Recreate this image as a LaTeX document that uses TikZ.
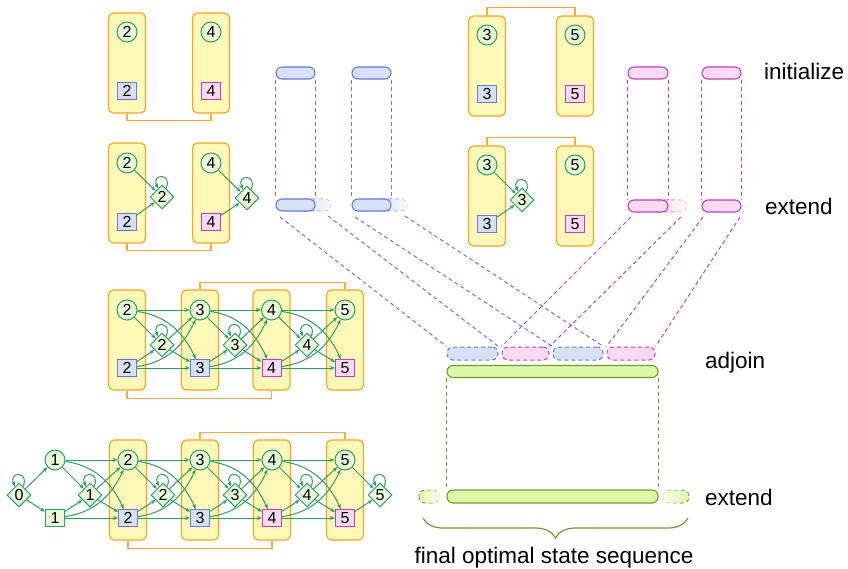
\documentclass[tikz,border=0pt]{standalone}
\usepackage{fontspec}
\setmainfont{Liberation Sans}
\usetikzlibrary{shapes.geometric,arrows.meta,decorations.pathreplacing,fadings,calc}
\definecolor{gline}{HTML}{2E9E62}
\definecolor{gfill}{HTML}{E8FAD8}
\definecolor{bline}{HTML}{6878E0}
\definecolor{bfill}{HTML}{D6E2F4}
\definecolor{pline}{HTML}{C23EC2}
\definecolor{pfill}{HTML}{FCDAF4}
\definecolor{oline}{HTML}{FFA21F}
\definecolor{ofill}{HTML}{FFF9B8}
\definecolor{obr}{HTML}{FFAA33}
\definecolor{lline}{HTML}{6A9E2C}
\definecolor{lfill}{HTML}{DEF8A8}
\tikzfading[name=fadeR, left color=transparent!0, right color=transparent!80]
\tikzfading[name=fadeL, left color=transparent!80, right color=transparent!0]
\newcommand\myloop[1]{\draw[arr] (#1) to[out=65,in=115,looseness=5.5] (#1);}
\newcommand\mytrans[5]{%
  \draw[arr] (#1) -- (#4);
  \draw[arr] (#2) -- (#5);
  \draw[arr] (#1) -- (#3);
  \draw[arr] (#2) -- (#3);
  \draw[arr] (#3) -- (#4);
  \draw[arr] (#3) -- (#5);
  \draw[arr] (#1) to[out=-8,in=115] (#5);
  \draw[arr] (#2) to[out=8,in=-115] (#4);
  \myloop{#3}
}
\begin{document}
\begin{tikzpicture}[x=1pt,y=-1pt,
  num/.style={font=\fontsize{16}{16}\selectfont},
  circ/.style={circle, draw=gline, fill=gfill, line width=1pt, minimum size=20pt, inner sep=0pt, num},
  sq/.style={rectangle, line width=1pt, minimum width=19pt, minimum height=17pt, inner sep=0pt, num},
  sqb/.style={sq, draw=bline, fill=bfill},
  sqp/.style={sq, draw=pline, fill=pfill},
  sqg/.style={sq, draw=gline, fill=gfill},
  dia/.style={diamond, draw=gline, fill=gfill, line width=1pt, minimum size=24pt, inner sep=0pt, num},
  ybox/.style={rectangle, rounded corners=5pt, draw=oline, fill=ofill, line width=1.2pt, minimum width=37pt, minimum height=100pt},
  brk/.style={draw=obr, line width=1.3pt},
  arr/.style={draw=gline, line width=1pt, -{Stealth[length=5pt,width=4pt]}},
  bar/.style={rectangle, rounded corners=6pt, minimum height=12pt, inner sep=0pt, line width=1.1pt},
  barb/.style={bar, draw=bline, fill=bfill},
  barp/.style={bar, draw=pline, fill=pfill},
  barg/.style={bar, draw=lline, fill=lfill},
  dsh/.style={dash pattern=on 4pt off 3pt, line width=1pt},
  lbl/.style={font=\fontsize{22.5}{24}\selectfont, inner sep=0pt},
]
\useasboundingbox (0,0) rectangle (848,569);

% ---------- group A ----------
\node[ybox] (a1) at (127,63) {};
\node[ybox] (a2) at (211,63) {};
\draw[brk] (a1.south) -- ++(0,7) -| (a2.south);
\node[circ] (ac1) at (127,32) {2};
\node[sqb] (as1) at (127,91) {2};
\node[circ] (ac2) at (211,32) {4};
\node[sqp] (as2) at (211,91) {4};

% ---------- group B ----------
\node[ybox] (b1) at (127,193) {};
\node[ybox] (b2) at (211,193) {};
\draw[brk] (b1.south) -- ++(0,7) -| (b2.south);
\node[circ] (bc1) at (127,163) {2};
\node[sqb] (bs1) at (127,222) {2};
\node[dia] (bd1) at (162,197) {2};
\node[circ] (bc2) at (211,163) {4};
\node[sqp] (bs2) at (211,222) {4};
\node[dia] (bd2) at (247,198) {4};
\draw[arr] (bc1) -- (bd1); \draw[arr] (bs1) -- (bd1); \myloop{bd1}
\draw[arr] (bc2) -- (bd2); \draw[arr] (bs2) -- (bd2); \myloop{bd2}

% ---------- group C ----------
\node[ybox] (c1) at (487,66) {};
\node[ybox] (c2) at (575,66) {};
\draw[brk] (c1.north) -- ++(0,-8) -| (c2.north);
\node[circ] (cc1) at (487,35) {3};
\node[sqb] (cs1) at (487,94) {3};
\node[circ] (cc2) at (575,35) {5};
\node[sqp] (cs2) at (575,94) {5};

% ---------- group D ----------
\node[ybox] (d1) at (487,196) {};
\node[ybox] (d2) at (575,196) {};
\draw[brk] (d1.north) -- ++(0,-8) -| (d2.north);
\node[circ] (dc1) at (487,165) {3};
\node[sqb] (ds1) at (487,224) {3};
\node[dia] (dd1) at (522,200) {3};
\node[circ] (dc2) at (575,165) {5};
\node[sqp] (ds2) at (575,224) {5};
\draw[arr] (dc1) -- (dd1); \draw[arr] (ds1) -- (dd1); \myloop{dd1}

% ---------- group E ----------
\node[ybox] (e1) at (127,340) {};
\node[ybox] (e2) at (200,340) {};
\node[ybox] (e3) at (271.5,340) {};
\node[ybox] (e4) at (345,340) {};
\draw[brk] (e2.north) -- ++(0,-7) -| (e4.north);
\draw[brk] (e1.south) -- ++(0,8) -| (e3.south);
\node[circ] (ec2) at (127,310) {2};
\node[circ] (ec3) at (200,310) {3};
\node[circ] (ec4) at (271.5,310) {4};
\node[circ] (ec5) at (345,310) {5};
\node[sqb] (es2) at (127,368) {2};
\node[sqb] (es3) at (200,368) {3};
\node[sqp] (es4) at (271.5,368) {4};
\node[sqp] (es5) at (345,368) {5};
\node[dia] (ed2) at (162,345) {2};
\node[dia] (ed3) at (235,345) {3};
\node[dia] (ed4) at (307,345) {4};
\mytrans{ec2}{es2}{ed2}{ec3}{es3}
\mytrans{ec3}{es3}{ed3}{ec4}{es4}
\mytrans{ec4}{es4}{ed4}{ec5}{es5}

% ---------- group F ----------
\node[ybox] (f1) at (128,490) {};
\node[ybox] (f2) at (200,490) {};
\node[ybox] (f3) at (272,490) {};
\node[ybox] (f4) at (345,490) {};
\draw[brk] (f2.north) -- ++(0,-7) -| (f4.north);
\draw[brk] (f1.south) -- ++(0,8) -| (f3.south);
\node[circ] (fc1) at (55,460) {1};
\node[circ] (fc2) at (128,460) {2};
\node[circ] (fc3) at (200,460) {3};
\node[circ] (fc4) at (272,460) {4};
\node[circ] (fc5) at (345,460) {5};
\node[sqg] (fs1) at (55,518) {1};
\node[sqb] (fs2) at (128,518) {2};
\node[sqb] (fs3) at (200,518) {3};
\node[sqp] (fs4) at (272,518) {4};
\node[sqp] (fs5) at (345,518) {5};
\node[dia] (fd0) at (19,495) {0};
\node[dia] (fd1) at (90,495) {1};
\node[dia] (fd2) at (163,495) {2};
\node[dia] (fd3) at (235,495) {3};
\node[dia] (fd4) at (307,495) {4};
\node[dia] (fd5) at (380,495) {5};
\myloop{fd0}
\draw[arr] (fd0) -- (fc1); \draw[arr] (fd0) -- (fs1);
\mytrans{fc1}{fs1}{fd1}{fc2}{fs2}
\mytrans{fc2}{fs2}{fd2}{fc3}{fs3}
\mytrans{fc3}{fs3}{fd3}{fc4}{fs4}
\mytrans{fc4}{fs4}{fd4}{fc5}{fs5}
\draw[arr] (fc5) -- (fd5); \draw[arr] (fs5) -- (fd5); \myloop{fd5}

% ---------- bars: initialize / extend ----------
\draw[dsh, draw=bline, fill=bfill, path fading=fadeR, rounded corners=6pt] (300,199) rectangle (331,211);
\draw[dsh, draw=bline, fill=bfill, path fading=fadeR, rounded corners=6pt] (376,199) rectangle (407,211);
\draw[dsh, draw=pline, fill=pfill, path fading=fadeR, rounded corners=6pt] (653,200) rectangle (687,212);
\node[barb, minimum width=39pt] (bt1) at (295.5,73) {};
\node[barb, minimum width=39pt] (bt2) at (371.5,73) {};
\node[barb, minimum width=39pt] (bb1) at (295.5,205) {};
\node[barb, minimum width=39pt] (bb2) at (371.5,205) {};
\node[barp, minimum width=40pt] (pt1) at (648,73) {};
\node[barp, minimum width=39pt] (pt2) at (721.5,73) {};
\node[barp, minimum width=40pt] (pb1) at (648,206) {};
\node[barp, minimum width=39pt] (pb2) at (721.5,206) {};
\foreach \u/\v in {bt1/bb1, bt2/bb2}{
  \draw[dsh, bline] (\u.south west) -- (\v.north west);
  \draw[dsh, bline] (\u.south east) -- (\v.north east);
}
\foreach \u/\v in {pt1/pb1, pt2/pb2}{
  \draw[dsh, pline] (\u.south west) -- (\v.north west);
  \draw[dsh, pline] (\u.south east) -- (\v.north east);
}

% ---------- adjoin ----------
\node[barb, dsh, minimum width=51pt, minimum height=13pt] (j1) at (472.5,353.5) {};
\node[barp, dsh, minimum width=47pt, minimum height=13pt] (j2) at (525.5,353.5) {};
\node[barb, dsh, minimum width=50pt, minimum height=13pt] (j3) at (578,353.5) {};
\node[barp, dsh, minimum width=48pt, minimum height=13pt] (j4) at (631,353.5) {};
\coordinate (sb1) at (280,217);
\coordinate (sb2) at (328,216);
\coordinate (sb3) at (355,217);
\coordinate (sb4) at (405,216);
\coordinate (sp1) at (631,217);
\coordinate (sp2) at (681,217);
\coordinate (sp3) at (703,217);
\coordinate (sp4) at (740,217);
\draw[dsh, bline] (sb1) -- (j1.north west);
\draw[dsh, bline] (sb2) -- (j1.north east);
\draw[dsh, bline] (sb3) -- (j3.north west);
\draw[dsh, bline] (sb4) -- (j3.north east);
\draw[dsh, pline] (sp1) -- (j2.north west);
\draw[dsh, pline] (sp2) -- (j2.north east);
\draw[dsh, pline] (sp3) -- (j4.north west);
\draw[dsh, pline] (sp4) -- (j4.north east);

% ---------- green ----------
\node[barg, minimum width=211pt, minimum height=12pt] (gt) at (552.5,371.5) {};
\node[barg, minimum width=211pt, minimum height=13pt] (gb) at (552.5,496.5) {};
\draw[dsh, lline] (gt.south west) -- (gb.north west);
\draw[dsh, lline] (gt.south east) -- (gb.north east);
\draw[dsh, draw=lline, fill=lfill, path fading=fadeR, rounded corners=6pt] (419,490) rectangle (440,503);
\draw[dsh, draw=lline, fill=lfill, path fading=fadeL, rounded corners=6pt] (663,490) rectangle (689,503);
\coordinate (brL) at (423,518);
\coordinate (brR) at (688,518);
\draw[lline, line width=1.2pt, decorate, decoration={brace, mirror, amplitude=20pt}] (brL) -- (brR);

% ---------- labels ----------
\node[lbl, anchor=base west] (l1) at (764,80) {initialize};
\node[lbl, anchor=base west] (l2) at (765,215) {extend};
\node[lbl, anchor=base west] (l3) at (705,368) {adjoin};
\node[lbl, anchor=base west] (l4) at (705,505) {extend};
\node[lbl, anchor=base] (l5) at (554,563) {final optimal state sequence};
\end{tikzpicture}
\end{document}
